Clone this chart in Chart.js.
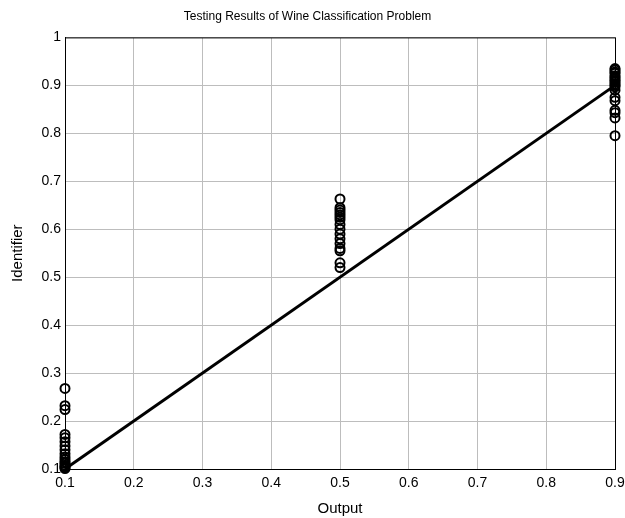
<!DOCTYPE html>
<html>
<head>
<meta charset="utf-8">
<script src="https://cdn.jsdelivr.net/npm/chart.js@4"></script>
<style>
  html, body { margin: 0; padding: 0; background: #fff; }
  #wrap { width: 625px; height: 518px; }
</style>
</head>
<body>
<div id="wrap"><canvas id="chart"></canvas></div>
<script>
// valores
const classOutputs = [0.1, 0.5, 0.9];
const identClass1 = [0.268, 0.232, 0.224, 0.172, 0.165, 0.157, 0.148, 0.14, 0.132, 0.125, 0.12, 0.115, 0.112, 0.108, 0.105, 0.103, 0.101];
const identClass2 = [0.663, 0.645, 0.64, 0.635, 0.63, 0.625, 0.62, 0.61, 0.6, 0.59, 0.58, 0.57, 0.56, 0.555, 0.53, 0.52];
const identClass3 = [0.935, 0.932, 0.928, 0.925, 0.92, 0.917, 0.913, 0.91, 0.907, 0.903, 0.9, 0.897, 0.89, 0.875, 0.868, 0.848, 0.843, 0.832, 0.795];
const idealLineX = [0.1, 0.9];
const idealLineY = [0.1, 0.9];
const xTicks = [0.1, 0.2, 0.3, 0.4, 0.5, 0.6, 0.7, 0.8, 0.9];
const yTicks = [0.1, 0.2, 0.3, 0.4, 0.5, 0.6, 0.7, 0.8, 0.9, 1];

const scatterPts = [];
[identClass1, identClass2, identClass3].forEach((arr, i) => {
  arr.forEach(v => scatterPts.push({ x: classOutputs[i], y: v }));
});
const linePts = idealLineX.map((x, i) => ({ x, y: idealLineY[i] }));

// marco completo (box on)
const boxPlugin = {
  id: 'boxFrame',
  afterDraw(chart) {
    const { ctx, chartArea: a } = chart;
    ctx.save();
    ctx.strokeStyle = '#000';
    ctx.lineWidth = 1;
    ctx.strokeRect(a.left + 0.5, a.top + 0.5, a.right - a.left, a.bottom - a.top);
    ctx.restore();
  }
};

const font = 'Liberation Sans, Arial, sans-serif';

new Chart(document.getElementById('chart'), {
  type: 'scatter',
  data: {
    datasets: [
      {
        data: scatterPts,
        clip: false,
        pointStyle: 'circle',
        pointRadius: 4.5,
        pointBorderWidth: 2,
        pointBorderColor: '#000',
        pointBackgroundColor: 'rgba(0,0,0,0)',
        showLine: false
      },
      {
        data: linePts,
        clip: false,
        showLine: true,
        borderColor: '#000',
        borderWidth: 3,
        pointRadius: 0
      }
    ]
  },
  options: {
    responsive: true,
    maintainAspectRatio: false,
    animation: false,
    layout: { padding: { left: 0, right: 10, top: 0, bottom: 0 } },
    plugins: {
      legend: { display: false },
      tooltip: { enabled: false },
      title: {
        display: true,
        text: 'Testing Results of Wine Classification Problem',
        color: '#000',
        font: { family: font, size: 12, weight: 'normal' },
        padding: { top: 9, bottom: 14 }
      }
    },
    scales: {
      x: {
        type: 'linear',
        min: 0.1,
        max: 0.9,
        afterBuildTicks: s => { s.ticks = xTicks.map(v => ({ value: v })); },
        afterFit: s => { s.height = 49; s.paddingLeft = 0; s.paddingRight = 0; },
        ticks: {
          color: '#000',
          font: { family: font, size: 14 },
          padding: 6,
          maxRotation: 0,
          callback: v => String(+v.toFixed(1))
        },
        grid: { color: '#bdbdbd', tickLength: 0, drawTicks: false },
        border: { color: '#000', width: 1 },
        title: {
          display: true,
          text: 'Output',
          color: '#000',
          font: { family: font, size: 15 },
          padding: { top: 0, bottom: 0 }
        }
      },
      y: {
        type: 'linear',
        min: 0.1,
        max: 1,
        afterBuildTicks: s => { s.ticks = yTicks.map(v => ({ value: v })); },
        afterFit: s => { s.width = 65; },
        ticks: {
          color: '#000',
          font: { family: font, size: 14 },
          padding: 4,
          callback: v => String(+v.toFixed(1))
        },
        grid: { color: '#bdbdbd', tickLength: 0, drawTicks: false },
        border: { color: '#000', width: 1 },
        title: {
          display: true,
          text: 'Identifier',
          color: '#000',
          font: { family: font, size: 15 },
          padding: { top: 9, bottom: 0 }
        }
      }
    }
  },
  plugins: [boxPlugin]
});
</script>
</body>
</html>
